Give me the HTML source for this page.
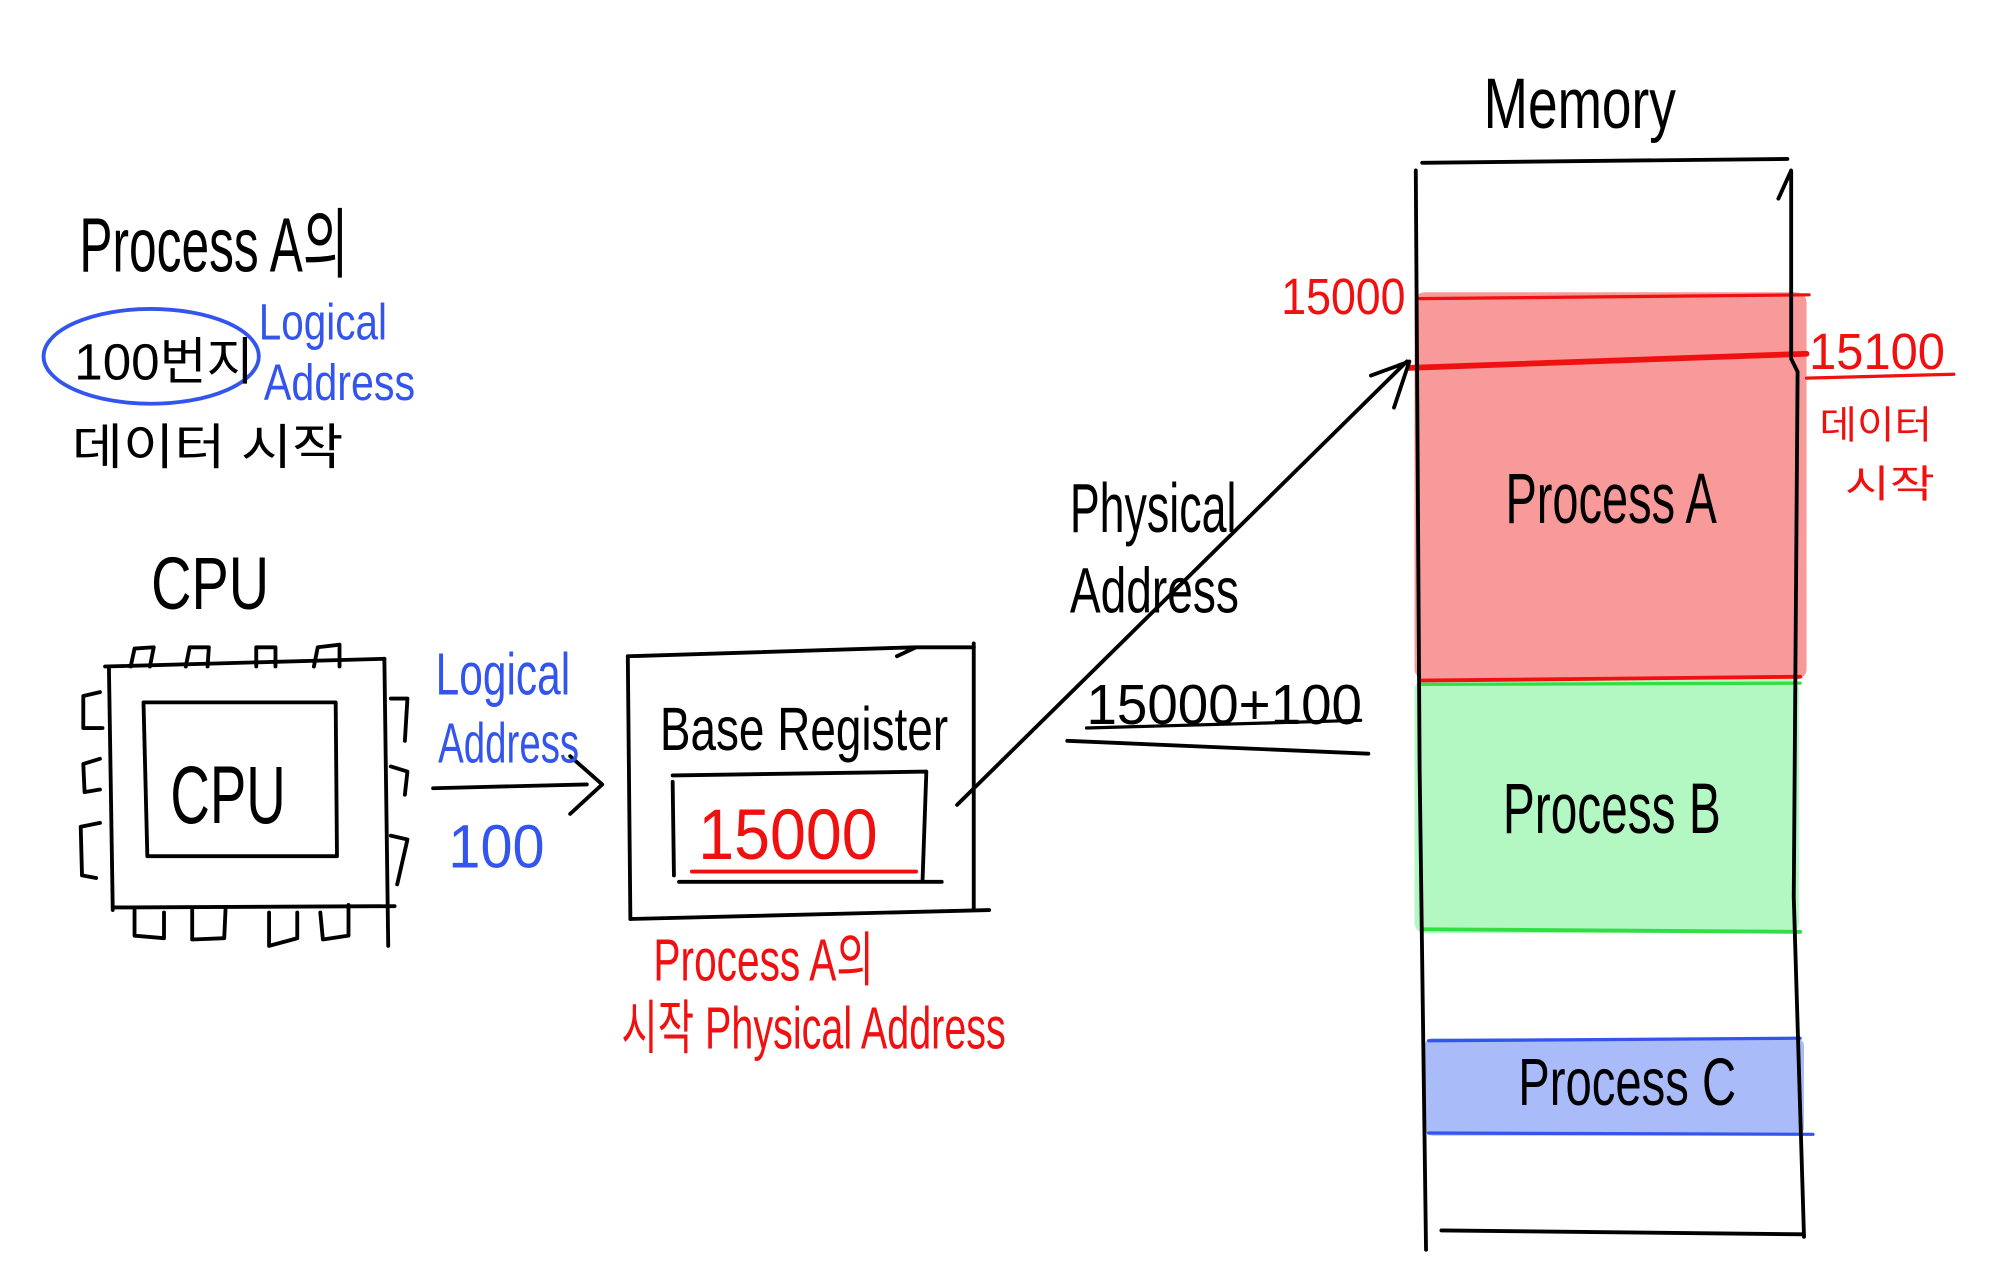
<!DOCTYPE html>
<html><head><meta charset="utf-8"><style>
html,body{margin:0;padding:0;background:#fff;}
svg{display:block;}
text{font-family:"Liberation Sans","Noto Sans CJK KR",sans-serif;}
</style></head><body>
<svg width="2009" height="1283" viewBox="0 0 1568 1001" preserveAspectRatio="none" xmlns="http://www.w3.org/2000/svg">
<g fill="none" stroke-linecap="round" stroke-linejoin="round">
<rect x="1104" y="228" width="306" height="302" fill="#f99a9a" stroke="none" rx="8"/>
<rect x="1104" y="530" width="300" height="198" fill="#b3f7c3" stroke="none" rx="8"/>
<rect x="1112" y="810" width="296" height="76" fill="#aabbf9" stroke="none" rx="6"/>
<path d="M1108 233 L1412 230" stroke="#f01010" stroke-width="2.5"/>
<path d="M1100 287 L1410 276" stroke="#f01010" stroke-width="4.5"/>
<path d="M1108 531 L1405 528" stroke="#f01010" stroke-width="3"/>
<path d="M1110 534 L1405 533" stroke="#33dd44" stroke-width="2.5"/>
<path d="M1110 725 L1405 727" stroke="#33dd44" stroke-width="3"/>
<path d="M1115 812 L1405 810" stroke="#3355ee" stroke-width="2.5"/>
<path d="M1115 884 L1415 885" stroke="#3355ee" stroke-width="2.5"/>
<path d="M1110 127 L1395 124" stroke="#000" stroke-width="3"/>
<path d="M1105 133 L1108 600 L1113 975" stroke="#000" stroke-width="3"/>
<path d="M1388 155 L1398 133 L1398 280 L1403 290 L1400 700 L1408 965" stroke="#000" stroke-width="3"/>
<path d="M1125 960 L1408 963" stroke="#000" stroke-width="3"/>
<path d="M1410 295 L1525 292" stroke="#f01010" stroke-width="2.5"/>
<path d="M82 520 L300 514" stroke="#000" stroke-width="3"/>
<path d="M85 520 L88 710" stroke="#000" stroke-width="3"/>
<path d="M300 514 L303 738" stroke="#000" stroke-width="3"/>
<path d="M90 708 L308 707" stroke="#000" stroke-width="3"/>
<path d="M112 548 L262 548 L263 668 L115 668 Z" stroke="#000" stroke-width="3"/>
<path d="M102 520 L105 506 L120 505 L117 520 M145 520 L148 505 L163 505 L162 520 M200 520 L200 505 L215 505 L215 520 M245 520 L248 505 L265 503 L265 520" stroke="#000" stroke-width="3"/>
<path d="M105 710 L105 730 L128 732 L128 712 M150 710 L150 733 L175 732 L176 710 M210 712 L210 738 L232 732 L232 712 M250 712 L252 733 L272 730 L272 706" stroke="#000" stroke-width="3"/>
<path d="M78 540 L65 543 L65 568 L80 568 M78 592 L65 596 L66 618 L78 616 M78 642 L63 645 L64 683 L75 685" stroke="#000" stroke-width="3"/>
<path d="M305 545 L318 545 L316 578 M305 598 L318 602 L316 620 M305 652 L318 655 L310 690" stroke="#000" stroke-width="3"/>
<path d="M338 615 L458 612" stroke="#000" stroke-width="3"/>
<path d="M445 590 L470 612 L445 635" stroke="#000" stroke-width="3"/>
<path d="M490 512 L715 505 M700 512 L715 505 L760 505" stroke="#000" stroke-width="3"/>
<path d="M490 512 L492 717" stroke="#000" stroke-width="3"/>
<path d="M760 502 L760 710" stroke="#000" stroke-width="3"/>
<path d="M492 717 L772 710" stroke="#000" stroke-width="3"/>
<path d="M525 605 L723 602 L720 688 M525 610 L526 683 M530 688 L735 688" stroke="#000" stroke-width="3"/>
<path d="M540 680 L715 680" stroke="#f01010" stroke-width="3"/>
<path d="M747 628 L1098 282" stroke="#000" stroke-width="3"/>
<path d="M1070 293 L1100 282 L1088 318" stroke="#000" stroke-width="3"/>
<path d="M848 568 L1062 562" stroke="#000" stroke-width="2.5"/>
<path d="M833 578 L1068 588" stroke="#000" stroke-width="3"/>
<ellipse cx="118" cy="278" rx="84" ry="37" stroke="#3355ee" stroke-width="3"/>
</g>
<g fill="#000">
<text x="1158" y="100" font-size="56" textLength="150" lengthAdjust="spacingAndGlyphs">Memory</text>
<text x="1175" y="408" font-size="56" textLength="165" lengthAdjust="spacingAndGlyphs">Process  A</text>
<text x="1173" y="650" font-size="56" textLength="170" lengthAdjust="spacingAndGlyphs">Process  B</text>
<text x="1185" y="862" font-size="52" textLength="170" lengthAdjust="spacingAndGlyphs">Process  C</text>
<text x="62" y="212" font-size="60" textLength="210" lengthAdjust="spacingAndGlyphs">Process A의</text>
<text x="58" y="296" font-size="40" textLength="140" lengthAdjust="spacingAndGlyphs">100번지</text>
<text x="56" y="362" font-size="38" textLength="212" lengthAdjust="spacingAndGlyphs">데이터 시작</text>
<text x="118" y="475" font-size="58" textLength="92" lengthAdjust="spacingAndGlyphs">CPU</text>
<text x="133" y="642" font-size="64" textLength="90" lengthAdjust="spacingAndGlyphs">CPU</text>
<text x="515" y="585" font-size="48" textLength="225" lengthAdjust="spacingAndGlyphs">Base Register</text>
<text x="835" y="415" font-size="54" textLength="130" lengthAdjust="spacingAndGlyphs">Physical</text>
<text x="835" y="478" font-size="50" textLength="132" lengthAdjust="spacingAndGlyphs">Address</text>
<text x="848" y="565" font-size="44" textLength="215" lengthAdjust="spacingAndGlyphs">15000+100</text>
</g>
<g fill="#3355ee">
<text x="202" y="265" font-size="40" textLength="100" lengthAdjust="spacingAndGlyphs">Logical</text>
<text x="206" y="312" font-size="40" textLength="118" lengthAdjust="spacingAndGlyphs">Address</text>
<text x="340" y="542" font-size="46" textLength="105" lengthAdjust="spacingAndGlyphs">Logical</text>
<text x="342" y="595" font-size="44" textLength="110" lengthAdjust="spacingAndGlyphs">Address</text>
<text x="350" y="677" font-size="48" textLength="75" lengthAdjust="spacingAndGlyphs">100</text>
</g>
<g fill="#f01010">
<text x="545" y="670" font-size="56" textLength="140" lengthAdjust="spacingAndGlyphs">15000</text>
<text x="1000" y="245" font-size="40" textLength="97" lengthAdjust="spacingAndGlyphs">15000</text>
<text x="1412" y="288" font-size="40" textLength="106" lengthAdjust="spacingAndGlyphs">15100</text>
<text x="1420" y="342" font-size="30" textLength="88" lengthAdjust="spacingAndGlyphs">데이터</text>
<text x="1440" y="388" font-size="30" textLength="70" lengthAdjust="spacingAndGlyphs">시작</text>
<text x="510" y="765" font-size="46" textLength="172" lengthAdjust="spacingAndGlyphs">Process A의</text>
<text x="485" y="818" font-size="46" textLength="300" lengthAdjust="spacingAndGlyphs">시작 Physical Address</text>
</g>
</svg>
</body></html>
